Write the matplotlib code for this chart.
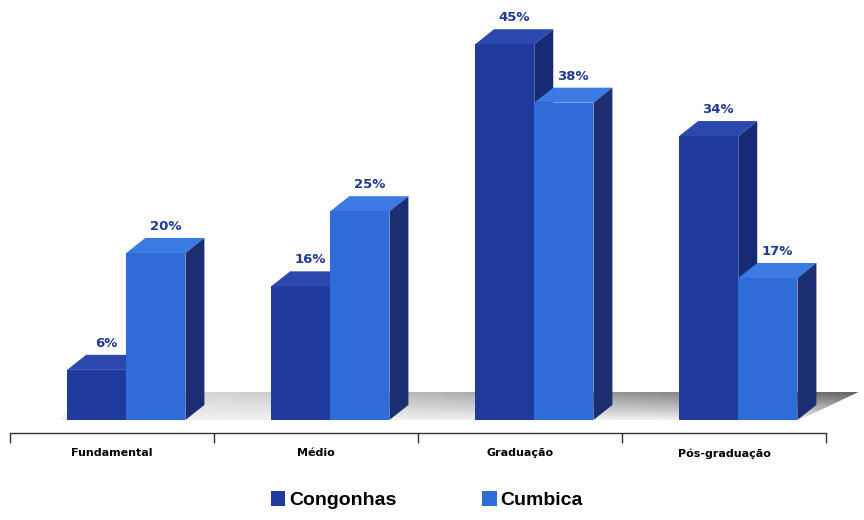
import numpy as np
import matplotlib
matplotlib.use("Agg")
import matplotlib.pyplot as plt
from matplotlib.patches import Polygon, Patch

# escolaridade dos passageiros por aeroporto (%)
categorias = ["Fundamental", "Médio", "Graduação", "Pós-graduação"]
congonhas = [6, 16, 45, 34]
cumbica = [20, 25, 38, 17]
series = ["Congonhas", "Cumbica"]

# cores das faces (frente, topo, lateral)
cores = {
    "Congonhas": ("#213a9d", "#2b48ae", "#162b74"),
    "Cumbica": ("#2f6cd8", "#3a7ae2", "#1b2f72"),
}
cor_rotulo = "#1f3a8f"

largura = 0.29      # largura da barra (unidades de categoria)
prof_x = 0.093      # deslocamento da profundidade em x
prof_y = 1.8        # deslocamento da profundidade em y (%)

fig = plt.figure(figsize=(8.64, 5.2), dpi=100)
ax = fig.add_axes([10 / 864, 87 / 520, 816 / 864, 433 / 520])
ax.set_xlim(-0.57, 3.43)
ax.set_ylim(-1.56, 50.3)

# piso com degradê cinza (escurece para o fundo e para a direita)
piso = np.array([[-0.33, 0], [3.30, 0], [3.59, 3.35], [-0.18, 3.35]])
gx, gy = np.meshgrid(np.linspace(0, 1, 300), np.linspace(0, 1, 40))
grad = 0.95 - gy ** 0.9 * (0.06 + 0.5 * gx ** 1.3)
img = ax.imshow(grad, cmap="gray", vmin=0, vmax=1, origin="lower",
                extent=(-0.33, 3.59, 0, 3.35), aspect="auto",
                interpolation="bilinear", zorder=1)
img.set_clip_box(fig.bbox)
img.set_clip_path(Polygon(piso, closed=True, transform=ax.transData))

x = np.arange(len(categorias))
for k, (nome, valores) in enumerate(zip(series, [congonhas, cumbica])):
    frente, topo, lado = cores[nome]
    x0s = x - largura + k * largura
    ax.bar(x0s, valores, width=largura, align="edge", color=frente,
           linewidth=0, zorder=3, clip_on=False)
    for x0, v in zip(x0s, valores):
        x1 = x0 + largura
        ax.add_patch(Polygon([[x0, v], [x1, v], [x1 + prof_x, v + prof_y],
                              [x0 + prof_x, v + prof_y]],
                             closed=True, facecolor=topo, linewidth=0,
                             zorder=3, clip_on=False))
        ax.add_patch(Polygon([[x1, 0], [x1 + prof_x, prof_y],
                              [x1 + prof_x, v + prof_y], [x1, v]],
                             closed=True, facecolor=lado, linewidth=0,
                             zorder=2 + k, clip_on=False))
        ax.text(x0 + largura / 2 + prof_x / 2, v + prof_y + 0.6, f"{v}%",
                ha="center", va="bottom", fontsize=9.5, fontweight="bold",
                color=cor_rotulo, family="DejaVu Sans", zorder=5)

# eixo de categorias
for lado_spine in ["left", "right", "top"]:
    ax.spines[lado_spine].set_visible(False)
ax.spines["bottom"].set_color("#333333")
ax.spines["bottom"].set_linewidth(1.0)
ax.set_yticks([])
ax.set_xticks(np.arange(len(categorias) + 1) - 0.57)
ax.set_xticklabels([])
ax.set_xticks(x - 0.07, minor=True)
ax.set_xticklabels(categorias, minor=True, fontsize=8, fontweight="bold",
                   family="Liberation Sans Narrow")
ax.tick_params(axis="x", which="major", direction="out", length=7,
               width=1.0, color="#333333")
ax.tick_params(axis="x", which="minor", length=0, pad=11)
ax.patch.set_alpha(0)

# legenda
alcas = [Patch(facecolor=cores[n][0], edgecolor="none") for n in series]
fig.legend(alcas, series, loc="center", bbox_to_anchor=(0.494, 0.038),
           ncol=2, frameon=False, handlelength=0.75, handleheight=0.75,
           handletextpad=0.2, columnspacing=4.4,
           prop={"family": "Liberation Sans", "weight": "bold", "size": 14})

fig.savefig("out.png", dpi=100)
